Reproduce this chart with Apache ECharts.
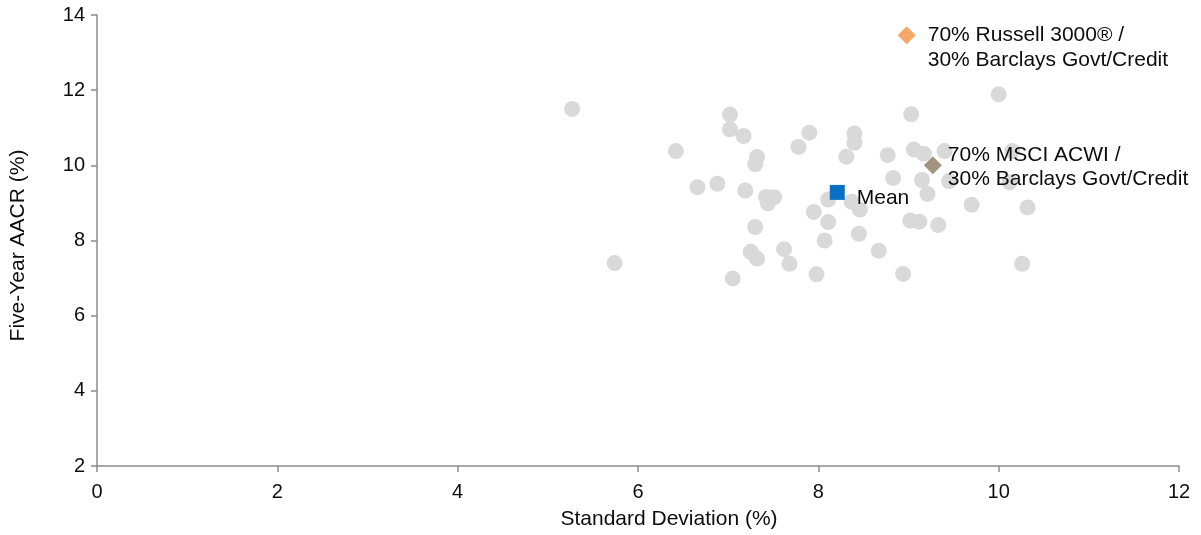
<!DOCTYPE html>
<html>
<head>
<meta charset="utf-8">
<script src="https://cdn.jsdelivr.net/npm/echarts@6/dist/echarts.min.js"></script>
<style>html,body{margin:0;padding:0;background:#fff}#c{width:1201px;height:535px}</style>
</head>
<body>
<div id="c"></div>
<script>
// Peer portfolios: [standard deviation %, five-year AACR %]
const peers = [
  [5.27, 11.50], [5.74, 7.40], [6.42, 10.38], [6.66, 9.42], [6.88, 9.51],
  [7.02, 11.35], [7.02, 10.96], [7.05, 6.99], [7.17, 10.78], [7.19, 9.33],
  [7.32, 10.22], [7.30, 10.03], [7.30, 8.36], [7.25, 7.70], [7.32, 7.52],
  [7.42, 9.16], [7.51, 9.15], [7.44, 8.99], [7.62, 7.77], [7.68, 7.38],
  [7.78, 10.49], [7.90, 10.87], [7.95, 8.76], [7.98, 7.10], [8.07, 8.00],
  [8.11, 9.09], [8.11, 8.49], [8.31, 10.23], [8.40, 10.85], [8.40, 10.60],
  [8.37, 9.03], [8.46, 8.82], [8.45, 8.18], [8.67, 7.73], [8.77, 10.27],
  [8.83, 9.66], [8.94, 7.11], [9.03, 11.36], [9.06, 10.42], [9.17, 10.31],
  [9.02, 8.53], [9.12, 8.50], [9.15, 9.61], [9.21, 9.24], [9.33, 8.41],
  [9.40, 10.38], [9.45, 9.58], [9.70, 8.95], [10.00, 11.89], [10.15, 10.38],
  [10.12, 9.55], [10.32, 8.88], [10.26, 7.38]
];
const meanPoint = [8.21, 9.28];
const msciPoint = [9.27, 10.00];
const russellPoint = [8.98, 13.46];

const xTicks = { min: 0, max: 12, interval: 2 };
const yTicks = { min: 2, max: 14, interval: 2 };

const xName = 'Standard Deviation (%)';
const yName = 'Five-Year AACR (%)';
const meanLabel = 'Mean';
const msciLabel = '70% MSCI ACWI /\n30% Barclays Govt/Credit';
const russellLabel = '70% Russell 3000® /\n30% Barclays Govt/Credit';

const FONT = '"Liberation Sans", Arial, sans-serif';
const TXT = '#0d0d0d';
const AX = '#8c8c8c';

const chart = echarts.init(document.getElementById('c'));
chart.setOption({
  animation: false,
  backgroundColor: '#fff',
  grid: { left: 97, right: 22, top: 15, bottom: 61, containLabel: false },
  xAxis: {
    type: 'value', min: xTicks.min, max: xTicks.max, interval: xTicks.interval,
    name: xName, nameLocation: 'middle', nameGap: 43,
    nameTextStyle: { fontFamily: FONT, fontSize: 21, color: TXT, padding: [0, 0, 0, 62] },
    axisLine: { show: true, onZero: false, lineStyle: { color: AX, width: 1.5 } },
    axisTick: { show: true, length: 6, lineStyle: { color: AX, width: 1.5 } },
    axisLabel: { fontFamily: FONT, fontSize: 20, color: TXT, margin: 16 },
    splitLine: { show: false }
  },
  yAxis: {
    type: 'value', min: yTicks.min, max: yTicks.max, interval: yTicks.interval,
    name: yName, nameLocation: 'middle', nameGap: 68,
    nameTextStyle: { fontFamily: FONT, fontSize: 21, color: TXT, padding: [0, 10, 0, 0] },
    axisLine: { show: true, onZero: false, lineStyle: { color: AX, width: 1.5 } },
    axisTick: { show: true, length: 6, lineStyle: { color: AX, width: 1.5 } },
    axisLabel: { fontFamily: FONT, fontSize: 20, color: TXT, margin: 12 },
    splitLine: { show: false }
  },
  series: [
    {
      type: 'scatter', data: peers, symbol: 'circle', symbolSize: 16,
      itemStyle: { color: '#d9d9d9', opacity: 1 }, z: 2
    },
    {
      type: 'scatter', data: [meanPoint], symbol: 'rect', symbolSize: 15,
      itemStyle: { color: '#0a70c4', opacity: 1 }, z: 4,
      label: { show: true, formatter: meanLabel, position: 'right', distance: 12,
        offset: [0, 6], fontFamily: FONT, fontSize: 21, color: TXT }
    },
    {
      type: 'scatter', data: [msciPoint], symbol: 'diamond', symbolSize: [18, 18],
      itemStyle: { color: '#a39480', opacity: 1 }, z: 4,
      label: { show: true, formatter: msciLabel, position: 'right', distance: 6,
        offset: [0, 2], lineHeight: 24, fontFamily: FONT, fontSize: 21, color: TXT }
    },
    {
      type: 'scatter', data: [russellPoint], symbol: 'diamond', symbolSize: [18, 18],
      itemStyle: { color: '#f5a767', opacity: 1 }, z: 4,
      label: { show: true, formatter: russellLabel, position: 'right', distance: 12,
        offset: [0, 12], lineHeight: 25, fontFamily: FONT, fontSize: 21, color: TXT }
    }
  ]
});
</script>
</body>
</html>
